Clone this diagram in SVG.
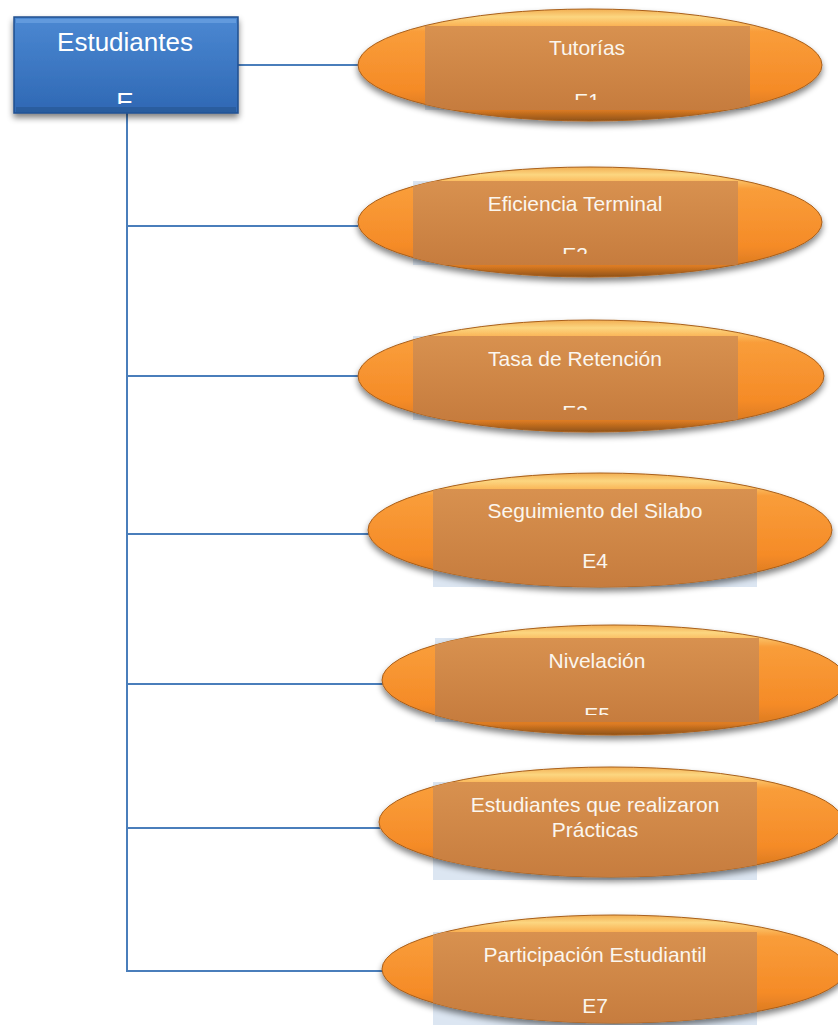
<svg xmlns="http://www.w3.org/2000/svg" width="838" height="1025" viewBox="0 0 838 1025">
<style>
.conn{stroke:#4a7ebb;stroke-width:2;fill:none}
.ell{fill:url(#og);stroke:#a85f1b;stroke-width:1;filter:url(#sh)}
.back{fill:#dce6f2}
.over{fill:url(#rg)}
.t{font-family:"Liberation Sans",Arial,sans-serif;font-size:21px;fill:#fbf6ee;text-anchor:middle}
.bt{font-family:"Liberation Sans",Arial,sans-serif;font-size:26px;fill:#ffffff;text-anchor:middle}
</style>
<defs>
<linearGradient id="og" x1="0" y1="0" x2="0" y2="1">
<stop offset="0" stop-color="#f2ae52"/>
<stop offset="0.07" stop-color="#fcd680"/>
<stop offset="0.2" stop-color="#f99d3a"/>
<stop offset="0.72" stop-color="#f58b27"/>
<stop offset="0.9" stop-color="#dc7b22"/>
<stop offset="1" stop-color="#8f5218"/>
</linearGradient>
<linearGradient id="rg" x1="0" y1="0" x2="0" y2="1">
<stop offset="0" stop-color="#d8914f"/>
<stop offset="1" stop-color="#c67c3e"/>
</linearGradient>
<linearGradient id="bg" x1="0" y1="0" x2="0" y2="1">
<stop offset="0" stop-color="#4b88d2"/>
<stop offset="1" stop-color="#2f68b4"/>
</linearGradient>
<filter id="sh" x="-10%" y="-20%" width="120%" height="150%">
<feGaussianBlur in="SourceAlpha" stdDeviation="3"/>
<feOffset dx="0" dy="4" result="b"/>
<feComponentTransfer><feFuncA type="linear" slope="0.5"/></feComponentTransfer>
<feMerge><feMergeNode/><feMergeNode in="SourceGraphic"/></feMerge>
</filter>
<clipPath id="cb"><rect x="14" y="17" width="224" height="87"/></clipPath>
<clipPath id="ce1"><ellipse cx="590" cy="65" rx="232" ry="56"/></clipPath>
<clipPath id="ce2"><ellipse cx="590" cy="222" rx="232" ry="55"/></clipPath>
<clipPath id="ce3"><ellipse cx="591" cy="376" rx="233" ry="56"/></clipPath>
<clipPath id="ce4"><ellipse cx="600" cy="530" rx="232" ry="57"/></clipPath>
<clipPath id="ce5"><ellipse cx="614" cy="680" rx="232" ry="55"/></clipPath>
<clipPath id="ce6"><ellipse cx="611" cy="822" rx="232" ry="55"/></clipPath>
<clipPath id="ce7"><ellipse cx="614" cy="969" rx="232" ry="54"/></clipPath>
<clipPath id="ct1"><rect x="425" y="26" width="325" height="74"/></clipPath>
<clipPath id="ct2"><rect x="413" y="181" width="325" height="73"/></clipPath>
<clipPath id="ct3"><rect x="413" y="336" width="325" height="74"/></clipPath>
<clipPath id="ct5"><rect x="435" y="638" width="324" height="77"/></clipPath>
</defs>
<rect width="838" height="1025" fill="#ffffff"/>

<g id="connectors">
<line class="conn" x1="238" y1="65" x2="358" y2="65"/>
<polyline class="conn" points="127,113 127,971 382,971"/>
<line class="conn" x1="127" y1="226" x2="358" y2="226"/>
<line class="conn" x1="127" y1="376" x2="360" y2="376"/>
<line class="conn" x1="127" y1="534" x2="369" y2="534"/>
<line class="conn" x1="127" y1="684" x2="383" y2="684"/>
<line class="conn" x1="127" y1="828" x2="380" y2="828"/>
</g>

<g id="E">
<rect x="14" y="17" width="224" height="96" fill="url(#bg)" stroke="#1f4f8f" stroke-width="1.5" filter="url(#sh)"/>
<rect x="16" y="19" width="220" height="4" fill="#6ea3e2" opacity="0.7"/>
<rect x="16" y="107" width="220" height="5" fill="#24558f" opacity="0.6"/>
<text class="bt" x="125" y="51">Estudiantes</text>
<text class="bt" x="125" y="111" clip-path="url(#cb)">E</text>
</g>

<g id="E1">
<rect class="back" x="425" y="26" width="325" height="84"/>
<ellipse class="ell" cx="590" cy="65" rx="232" ry="56"/>
<rect class="over" x="425" y="26" width="325" height="84" clip-path="url(#ce1)"/>
<text class="t" x="587" y="55">Tutorías</text>
<text class="t" x="587" y="108" clip-path="url(#ct1)">E1</text>
</g>

<g id="E2">
<rect class="back" x="413" y="181" width="325" height="84"/>
<ellipse class="ell" cx="590" cy="222" rx="232" ry="55"/>
<rect class="over" x="413" y="181" width="325" height="84" clip-path="url(#ce2)"/>
<text class="t" x="575" y="211">Eficiencia Terminal</text>
<text class="t" x="575" y="262" clip-path="url(#ct2)">E2</text>
</g>

<g id="E3">
<rect class="back" x="413" y="336" width="325" height="84"/>
<ellipse class="ell" cx="591" cy="376" rx="233" ry="56"/>
<rect class="over" x="413" y="336" width="325" height="84" clip-path="url(#ce3)"/>
<text class="t" x="575" y="366">Tasa de Retención</text>
<text class="t" x="575" y="420" clip-path="url(#ct3)">E3</text>
</g>

<g id="E4">
<rect class="back" x="433" y="489" width="324" height="98"/>
<ellipse class="ell" cx="600" cy="530" rx="232" ry="57"/>
<rect class="over" x="433" y="489" width="324" height="98" clip-path="url(#ce4)"/>
<text class="t" x="595" y="518">Seguimiento del Silabo</text>
<text class="t" x="595" y="568">E4</text>
</g>

<g id="E5">
<rect class="back" x="435" y="638" width="324" height="84"/>
<ellipse class="ell" cx="614" cy="680" rx="232" ry="55"/>
<rect class="over" x="435" y="638" width="324" height="84" clip-path="url(#ce5)"/>
<text class="t" x="597" y="668">Nivelación</text>
<text class="t" x="597" y="722" clip-path="url(#ct5)">E5</text>
</g>

<g id="E6">
<rect class="back" x="433" y="782" width="324" height="98"/>
<ellipse class="ell" cx="611" cy="822" rx="232" ry="55"/>
<rect class="over" x="433" y="782" width="324" height="98" clip-path="url(#ce6)"/>
<text class="t" x="595" y="812">Estudiantes que realizaron</text>
<text class="t" x="595" y="837">Prácticas</text>
</g>

<g id="E7">
<rect class="back" x="433" y="932" width="324" height="93"/>
<ellipse class="ell" cx="614" cy="969" rx="232" ry="54"/>
<rect class="over" x="433" y="932" width="324" height="93" clip-path="url(#ce7)"/>
<text class="t" x="595" y="962">Participación Estudiantil</text>
<text class="t" x="595" y="1013">E7</text>
</g>
</svg>
